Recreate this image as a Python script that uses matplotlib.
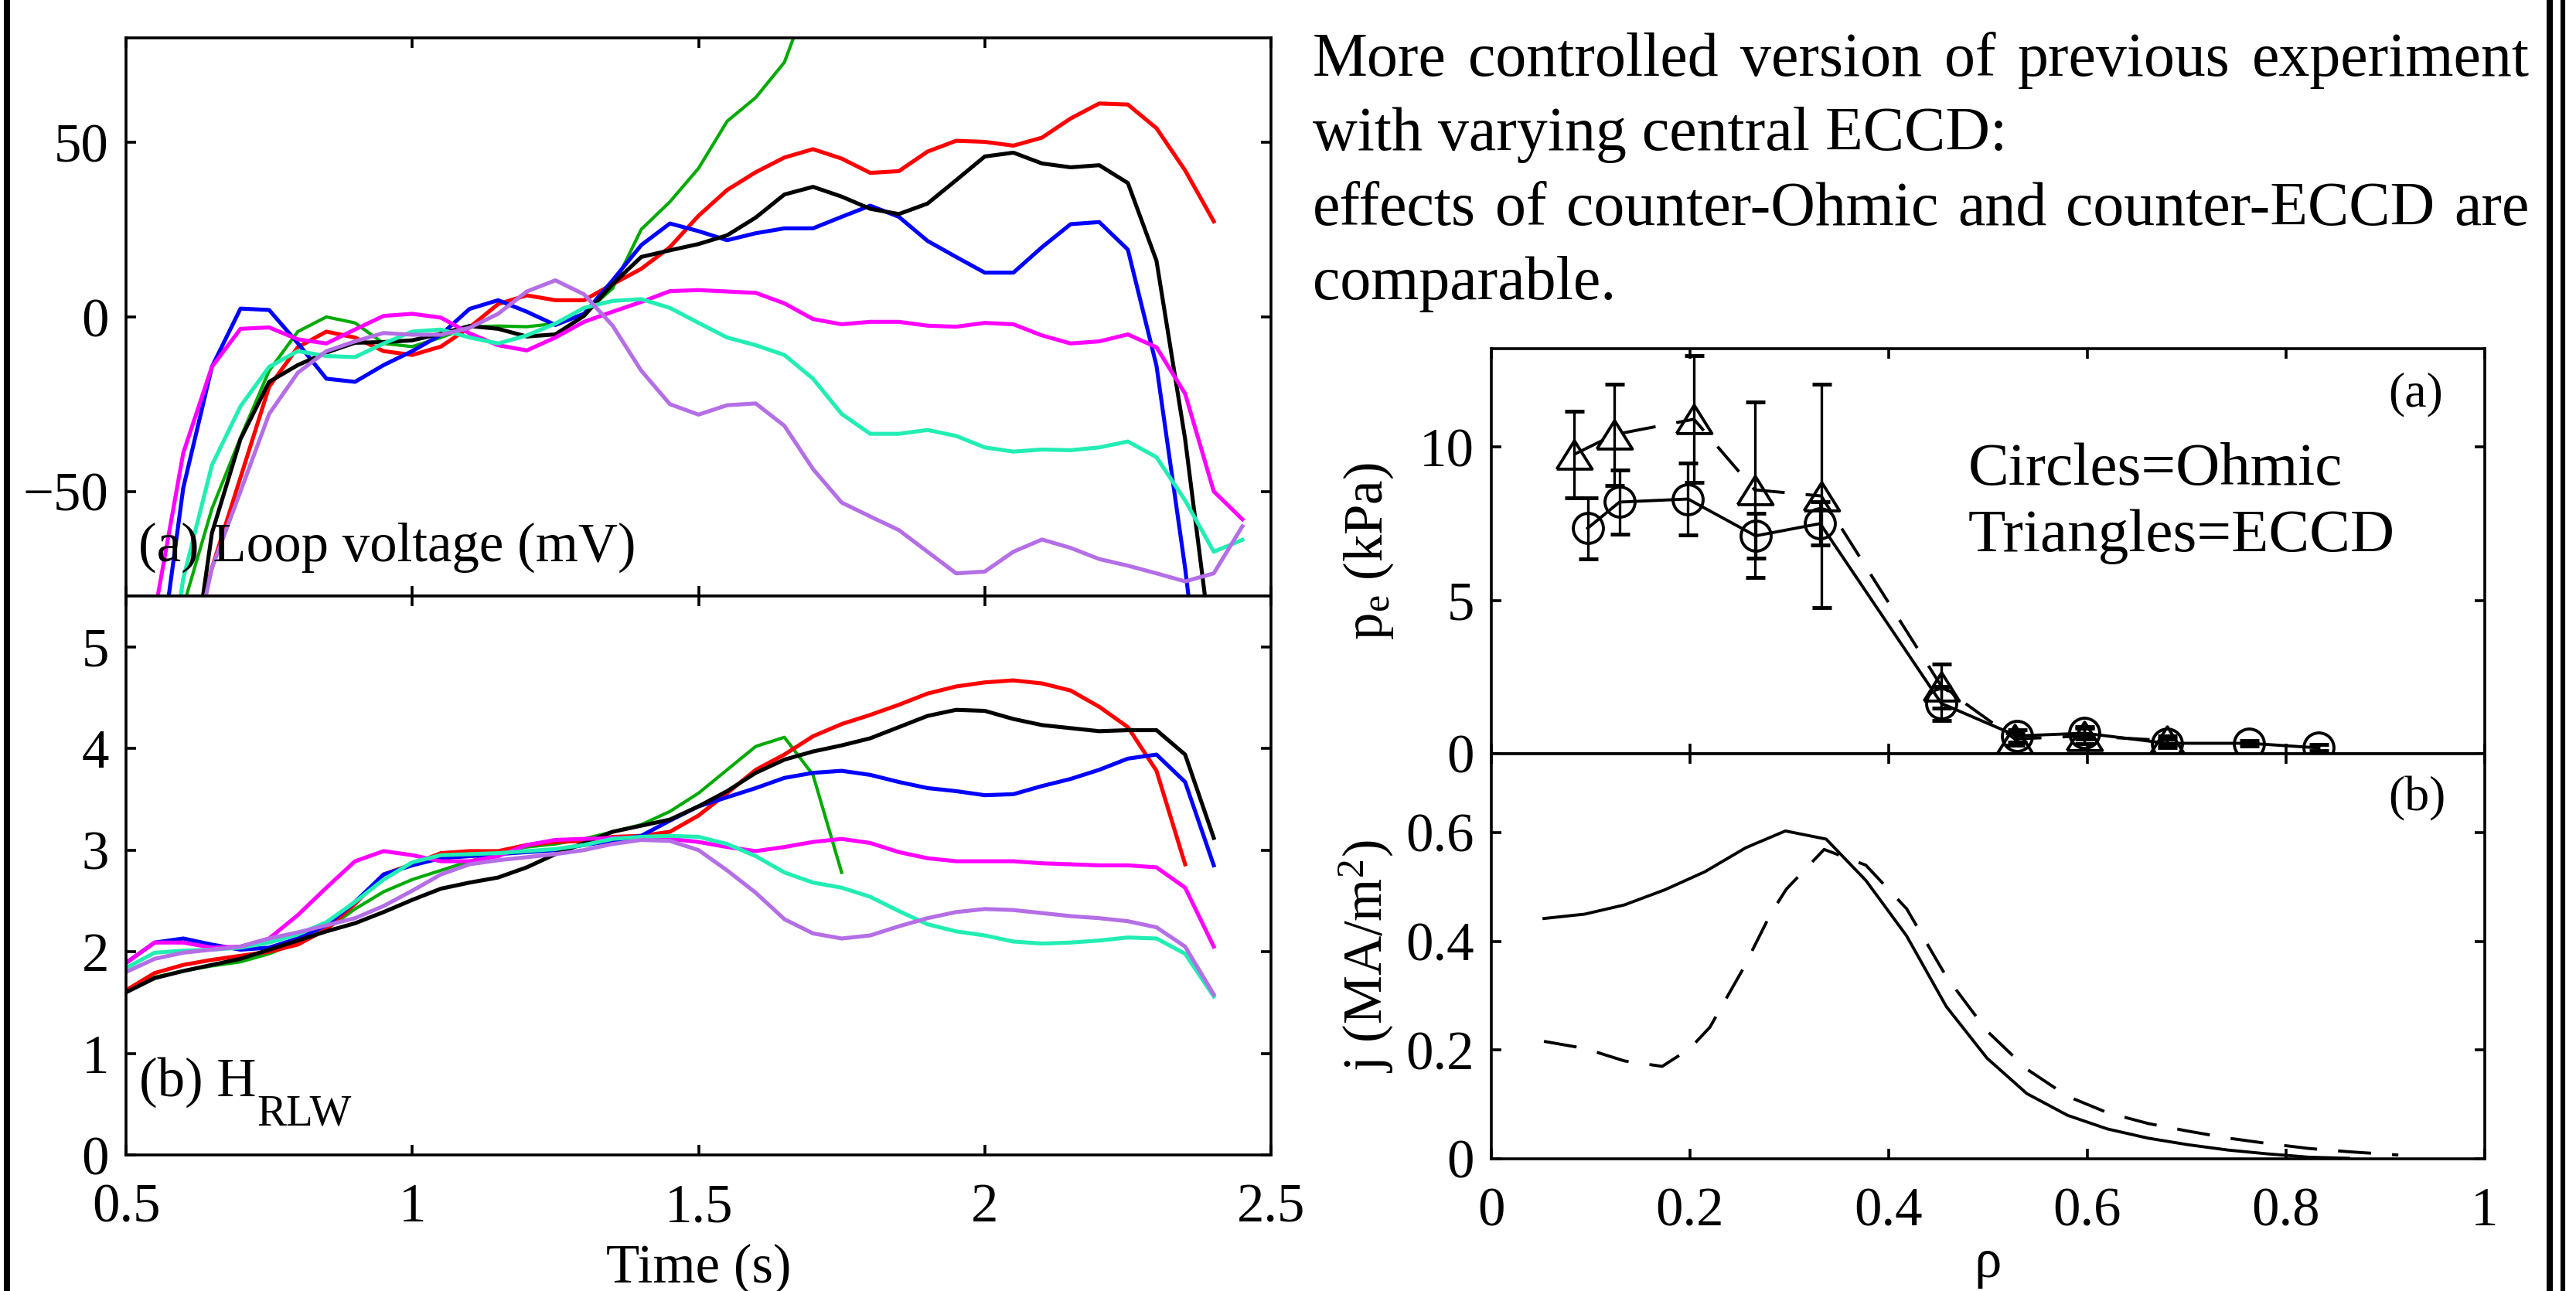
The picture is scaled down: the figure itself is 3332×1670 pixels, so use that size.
import numpy as np
import matplotlib
matplotlib.use("Agg")
import matplotlib.pyplot as plt
from matplotlib.lines import Line2D

# ---------------- data ----------------
# loop voltage (mV), one sample every 0.05 s starting at *_t0
red_v_t0 = 0.60
red_v = [-105, -72, -46, -20, -8.7, -4.2, -5.9, -9.8, -10.9, -8.5, -3.0, 3.7, 6.2, 4.8,
         4.8, 9.4, 13.8, 20.0, 29.0, 36.4, 41.5, 45.7, 48.1, 45.4, 41.3, 41.8, 47.4, 50.5,
         50.2, 49.1, 51.4, 56.9, 61.2, 60.9, 54.1, 42.0, 27.4]
black_v_t0 = 0.60
black_v = [-120, -62, -35, -18.6, -13.8, -10.2, -7.4, -7.2, -6.7, -4.8, -2.6, -3.4, -5.6,
           -5.0, 0.3, 9.4, 17.2, 19.1, 20.9, 23.4, 28.5, 35.1, 37.3, 34.5, 31.0, 29.5, 32.5,
           39.2, 46.0, 47.1, 44.0, 42.9, 43.5, 38.4, 16.1, -35, -100]
blue_v_t0 = 0.55
blue_v = [-110, -49, -14.3, 2.4, 2.0, -7.5, -17.7, -18.6, -13.8, -9.8, -5.1, 2.3, 4.8, 1.5,
          -2.3, 0.9, 10.5, 20.6, 26.8, 24.6, 22.0, 24.0, 25.4, 25.4, 28.7, 31.9, 28.7, 21.8,
          17.2, 12.7, 12.7, 20.0, 26.6, 27.2, 19.3, -14, -72, -140]
green_v_t0 = 0.60
green_v = [-83, -55, -34.6, -15.4, -4.2, 0.0, -1.7, -7.6, -8.5, -5.9, -2.8, -2.6, -2.8, -1.9,
           0.9, 8.2, 25.1, 33.0, 42.6, 56.1, 62.9, 73.0, 95, 110]
magenta_v_t0 = 0.55
magenta_v = [-85, -39, -14.3, -3.4, -3.0, -6.4, -7.6, -3.6, 0.3, 0.9, -0.2, -4.7, -8.1, -9.6,
             -5.9, -1.4, 1.5, 4.3, 7.4, 7.7, 7.3, 6.9, 3.9, -0.6, -2.1, -1.4, -1.4, -2.5,
             -2.8, -1.7, -2.1, -5.3, -7.6, -7.0, -5.0, -8.7, -22, -50, -58]
turq_v_t0 = 0.55
turq_v = [-130, -75, -42.5, -25.6, -14.3, -9.8, -11.2, -11.5, -7.6, -4.2, -3.6, -5.9, -7.6,
          -5.3, -1.9, 2.6, 4.6, 5.1, 2.6, -1.7, -5.9, -8.1, -10.9, -17.7, -27.8, -33.5,
          -33.5, -32.4, -34.1, -37.4, -38.6, -38.0, -38.2, -37.4, -35.7, -40.2, -52.6,
          -67.3, -63.9]
purple_v_t0 = 0.60
purple_v = [-110, -72, -50, -27.8, -16, -9.8, -7.0, -4.6, -5.1, -5.1, -3.1, 0.9, 7.3, 10.5,
            6.5, -2.5, -15.4, -25, -28, -25.3, -24.8, -31.2, -43.6, -53.2, -57.2, -61.1,
            -67.3, -73.5, -73.0, -67.3, -63.8, -66.2, -69.4, -71.3, -73.5, -75.8, -73.5, -60]

# H_RLW, one sample every 0.05 s starting at 0.5 s
h_t0 = 0.50
red_h = [1.62, 1.79, 1.87, 1.92, 1.96, 2.00, 2.07, 2.22, 2.47, 2.76, 2.86, 2.97, 2.99, 2.99,
         3.05, 3.08, 3.09, 3.13, 3.14, 3.18, 3.34, 3.56, 3.79, 3.94, 4.12, 4.24, 4.33, 4.43,
         4.54, 4.61, 4.65, 4.67, 4.64, 4.57, 4.41, 4.21, 3.78, 2.86]
black_h = [1.60, 1.74, 1.81, 1.87, 1.93, 2.02, 2.11, 2.20, 2.28, 2.39, 2.51, 2.62, 2.68, 2.73,
           2.83, 2.96, 3.07, 3.18, 3.24, 3.30, 3.43, 3.58, 3.76, 3.89, 3.97, 4.03, 4.10, 4.21,
           4.32, 4.38, 4.37, 4.29, 4.23, 4.20, 4.17, 4.18, 4.18, 3.94, 3.12]
blue_h = [1.89, 2.09, 2.13, 2.07, 2.02, 2.04, 2.13, 2.26, 2.49, 2.76, 2.85, 2.92, 2.94, 2.96,
          2.98, 3.00, 3.05, 3.09, 3.14, 3.29, 3.43, 3.52, 3.61, 3.71, 3.76, 3.78, 3.74, 3.67,
          3.61, 3.58, 3.54, 3.55, 3.63, 3.70, 3.79, 3.90, 3.94, 3.67, 2.85]
green_h = [1.60, 1.75, 1.81, 1.86, 1.90, 1.98, 2.09, 2.22, 2.42, 2.59, 2.71, 2.80, 2.89, 2.97,
           3.03, 3.06, 3.11, 3.18, 3.25, 3.38, 3.56, 3.79, 4.02, 4.11, 3.74, 2.78]
magenta_h = [1.89, 2.09, 2.09, 2.04, 2.05, 2.13, 2.36, 2.63, 2.89, 2.99, 2.95, 2.89, 2.89,
             2.94, 3.05, 3.10, 3.11, 3.12, 3.12, 3.11, 3.08, 3.03, 2.99, 3.03, 3.08, 3.11,
             3.07, 2.98, 2.92, 2.89, 2.89, 2.89, 2.87, 2.86, 2.85, 2.85, 2.83, 2.63, 2.05]
turq_h = [1.84, 1.99, 2.01, 2.02, 2.04, 2.09, 2.17, 2.29, 2.49, 2.71, 2.88, 2.95, 2.96, 2.97,
          2.99, 3.01, 3.05, 3.11, 3.13, 3.14, 3.13, 3.06, 2.94, 2.78, 2.68, 2.63, 2.54, 2.40,
          2.27, 2.20, 2.16, 2.10, 2.08, 2.09, 2.11, 2.14, 2.13, 1.98, 1.56]
purple_h = [1.80, 1.93, 1.99, 2.02, 2.05, 2.13, 2.19, 2.26, 2.33, 2.45, 2.60, 2.76, 2.86, 2.90,
            2.93, 2.96, 3.00, 3.06, 3.10, 3.09, 3.00, 2.80, 2.58, 2.32, 2.18, 2.13, 2.16, 2.25,
            2.33, 2.39, 2.42, 2.41, 2.38, 2.35, 2.33, 2.30, 2.24, 2.05, 1.58]

# electron pressure profiles (kPa)
ohmic_rho = [0.097, 0.129, 0.198, 0.266, 0.331, 0.453, 0.529, 0.597, 0.680, 0.763, 0.833]
ohmic_pe = [7.35, 8.20, 8.30, 7.10, 7.50, 1.64, 0.58, 0.67, 0.34, 0.34, 0.19]
ohmic_err = [1.00, 1.05, 1.16, 0.73, 0.70, 0.55, 0.20, 0.20, 0.15, 0.10, 0.10]
eccd_rho = [0.083, 0.124, 0.204, 0.265, 0.332, 0.453, 0.527, 0.597, 0.680]
eccd_pe = [9.75, 10.40, 10.90, 8.60, 8.40, 2.20, 0.48, 0.58, 0.43]
eccd_err = [1.40, 1.65, 2.07, 2.85, 3.63, 0.72, 0.20, 0.25, 0.15]

# current density profiles (MA/m^2)
j_ohmic_rho = [0.053, 0.094, 0.134, 0.175, 0.215, 0.256, 0.296, 0.337, 0.377, 0.418, 0.458,
               0.499, 0.539, 0.580, 0.620, 0.661, 0.701, 0.742, 0.782, 0.823, 0.863]
j_ohmic = [0.442, 0.450, 0.467, 0.495, 0.528, 0.572, 0.603, 0.588, 0.512, 0.410, 0.280,
           0.185, 0.120, 0.080, 0.055, 0.038, 0.026, 0.016, 0.009, 0.003, 0.001]
j_eccd_rho = [0.053, 0.094, 0.134, 0.172, 0.200, 0.220, 0.253, 0.281, 0.297, 0.335, 0.377,
              0.418, 0.458, 0.499, 0.539, 0.580, 0.620, 0.661, 0.701, 0.742, 0.782, 0.823,
              0.863, 0.913]
j_eccd = [0.216, 0.203, 0.180, 0.170, 0.203, 0.242, 0.348, 0.450, 0.496, 0.569, 0.540,
          0.460, 0.335, 0.235, 0.165, 0.115, 0.085, 0.065, 0.051, 0.038, 0.028, 0.019,
          0.013, 0.007]

time_ticks = [0.5, 1, 1.5, 2, 2.5]
time_ticklabels = ['0.5', '1', '1.5', '2', '2.5']
volt_ticks = [-50, 0, 50]
volt_ticklabels = ['\u221250', '0', '50']
h_ticks = [0, 1, 2, 3, 4, 5]
h_ticklabels = ['0', '1', '2', '3', '4', '5']
rho_ticks = [0, 0.2, 0.4, 0.6, 0.8, 1]
rho_ticklabels = ['0', '0.2', '0.4', '0.6', '0.8', '1']
pe_ticks = [0, 5, 10]
pe_ticklabels = ['0', '5', '10']
j_ticks = [0, 0.2, 0.4, 0.6]
j_ticklabels = ['0', '0.2', '0.4', '0.6']

note_lines = ["More controlled version of previous experiment",
              "with varying central ECCD:",
              "effects of counter-Ohmic and counter-ECCD are",
              "comparable."]
note_justified = [True, False, True, False]

# ---------------- layout ----------------
W, H = 3332, 1670
DPI = 100

plt.rcParams['font.family'] = ['Liberation Serif', 'DejaVu Serif']
plt.rcParams['mathtext.fontset'] = 'custom'
plt.rcParams['mathtext.rm'] = 'Liberation Serif'
plt.rcParams['mathtext.it'] = 'Liberation Serif:italic'

fig = plt.figure(figsize=(W / DPI, H / DPI), dpi=DPI, facecolor='white')


def box(x0, y0, x1, y1):
    # pixel box (top-left origin) -> figure fraction rect
    return [x0 / W, 1 - y1 / H, (x1 - x0) / W, (y1 - y0) / H]


def ftext(x, y, s, **kw):
    return fig.text(x / W, 1 - y / H, s, **kw)


def style(ax):
    for sp in ax.spines.values():
        sp.set_linewidth(2.6)
    ax.tick_params(direction='in', length=9.5, width=2.6, top=True, right=True,
                   labelsize=51)
    ax.tick_params(axis='x', pad=26)
    ax.tick_params(axis='y', pad=16)


def sample_times(t0, vals):
    return t0 + 0.05 * np.arange(len(vals))


RED, BLACK, BLUE, GREEN = '#ff0000', '#000000', '#0000ff', '#00aa00'
MAGENTA, TURQ, PURPLE = '#ff00ff', '#22eeb4', '#b46ee6'
LW = 3.7

# left column: loop voltage and H_RLW
ax_v = fig.add_axes(box(163, 49, 1644, 771))
ax_h = fig.add_axes(box(163, 771, 1644, 1494))

volt_series = [(GREEN, 3.0, green_v_t0, green_v), (RED, LW, red_v_t0, red_v),
               (BLUE, LW, blue_v_t0, blue_v), (BLACK, LW, black_v_t0, black_v),
               (MAGENTA, LW, magenta_v_t0, magenta_v), (TURQ, LW, turq_v_t0, turq_v),
               (PURPLE, LW, purple_v_t0, purple_v)]
for c, lw, t0, v in volt_series:
    ax_v.plot(sample_times(t0, v), v, color=c, lw=lw)

h_series = [(GREEN, 3.0, green_h), (RED, LW, red_h), (BLUE, LW, blue_h),
            (BLACK, LW, black_h), (MAGENTA, LW, magenta_h), (TURQ, LW, turq_h),
            (PURPLE, LW, purple_h)]
for c, lw, v in h_series:
    ax_h.plot(sample_times(h_t0, v), v, color=c, lw=lw)

for ax in (ax_v, ax_h):
    style(ax)
    ax.set_xlim(0.5, 2.5)
    ax.set_xticks(time_ticks, time_ticklabels)
ax_v.set_ylim(-80, 80)
ax_v.set_yticks(volt_ticks, volt_ticklabels)
ax_v.tick_params(labelbottom=False)
ax_h.set_ylim(0, 5.5)
ax_h.set_yticks(h_ticks, h_ticklabels)
ax_h.set_xlabel('Time (s)', fontsize=51, va='baseline')
ax_h.xaxis.set_label_coords(0.5, (1494 - 1659) / 723)

ftext(179, 726, '(a) Loop voltage (mV)', fontsize=51, va='baseline')
ftext(180, 1418, '(b) H', fontsize=51, va='baseline')
ftext(332, 1455, 'RLW', fontsize=41, va='baseline')

# right column: pressure and current profiles
ax_p = fig.add_axes(box(1929, 451, 3214, 975))
ax_j = fig.add_axes(box(1929, 975, 3214, 1499))

tri = [(-1, -0.8), (1, -0.8), (0, 0.8), (-1, -0.8)]
ax_p.errorbar(ohmic_rho, ohmic_pe, yerr=ohmic_err, fmt='none', ecolor='k',
              elinewidth=2.4, capsize=9, capthick=3.5)
ax_p.errorbar(eccd_rho, eccd_pe, yerr=eccd_err, fmt='none', ecolor='k',
              elinewidth=2.4, capsize=9, capthick=3.5)
ax_p.plot(ohmic_rho, ohmic_pe, color='k', lw=2.8, marker='o', ms=28,
          mfc='none', mec='k', mew=2.8)
ax_p.plot(eccd_rho, eccd_pe, color='k', lw=2.8, ls=(0, (11, 7)), marker=tri, ms=33,
          mfc='none', mec='k', mew=2.8)

ax_j.plot(j_ohmic_rho, j_ohmic, color='k', lw=2.8)
ax_j.plot(j_eccd_rho, j_eccd, color='k', lw=2.8, ls=(0, (11, 7)))

for ax in (ax_p, ax_j):
    style(ax)
    ax.set_xlim(0, 1)
    ax.set_xticks(rho_ticks, rho_ticklabels)
ax_p.set_ylim(0, 13.2)
ax_p.set_yticks(pe_ticks, pe_ticklabels)
ax_p.tick_params(labelbottom=False)
ax_j.set_ylim(0, 0.745)
ax_j.set_yticks(j_ticks, j_ticklabels)

ax_j.set_xlabel('\u03c1', fontsize=51, va='baseline')
ax_j.xaxis.set_label_coords(0.5, (1499 - 1652) / 524)
ax_p.set_ylabel(r'p$_{\mathrm{e}}$ (kPa)', fontsize=51, va='baseline')
ax_p.yaxis.set_label_coords((1788 - 1929) / 1285, 0.5)
ax_j.set_ylabel(r'j (MA/m$^{2}$)', fontsize=51, va='baseline')
ax_j.yaxis.set_label_coords((1788 - 1929) / 1285, 0.5)

ftext(3160, 510, '(a)', fontsize=46, ha='right', va='center')
ftext(3163, 1033, '(b)', fontsize=46, ha='right', va='center')
ftext(2546, 627, 'Circles=Ohmic', fontsize=57, va='baseline')
ftext(2546, 713, 'Triangles=ECCD', fontsize=57, va='baseline')

# justified note above the right panels
renderer = fig.canvas.get_renderer()
x_left, x_right = 1698, 3272
for i, (line, just) in enumerate(zip(note_lines, note_justified)):
    y = 98 + 96.3 * i
    if not just:
        ftext(x_left, y, line, fontsize=57.5, va='baseline')
        continue
    words = line.split()
    parts = [ftext(0, y, w, fontsize=57.5, va='baseline') for w in words]
    widths = [p.get_window_extent(renderer).width for p in parts]
    gap = (x_right - x_left - sum(widths)) / (len(words) - 1)
    x = x_left
    for p, w in zip(parts, widths):
        p.set_x(x / W)
        x += w + gap

# page frame lines
for x, lw in ((9, 5.8), (3298, 5.8), (3315, 4.4)):
    fig.add_artist(Line2D([x / W, x / W], [0, 1], color='k', lw=lw,
                          transform=fig.transFigure))

fig.savefig('out.png', dpi=DPI)
